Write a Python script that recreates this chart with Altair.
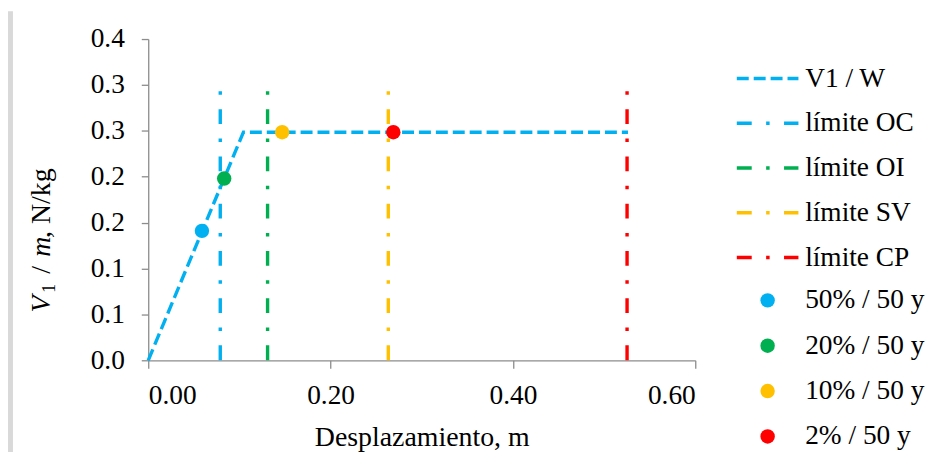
import altair as alt
import pandas as pd

# ---------------- data ----------------
CURVE_NAME = "V1 / W"
CURVE_X = [0.0, 0.1044, 0.5262]
CURVE_Y = [0.0, 0.2485, 0.2485]

LIMIT_NAMES = ["límite OC", "límite OI", "límite SV", "límite CP"]
LIMIT_X = [0.079, 0.1309, 0.2633, 0.5252]
LIMIT_Y = [0.0, 0.294]

EVENT_NAMES = ["50% / 50 y", "20% / 50 y", "10% / 50 y", "2% / 50 y"]
EVENT_X = [0.0589, 0.0833, 0.1469, 0.2688]
EVENT_Y = [0.141, 0.198, 0.2485, 0.2485]

X_TICKS = [0.0, 0.2, 0.4, 0.6]
Y_TICKS = [0.0, 0.05, 0.10, 0.15, 0.20, 0.25, 0.30, 0.35]
Y_TICK_LABELS = ["0.0", "0.1", "0.1", "0.2", "0.2", "0.3", "0.3", "0.4"]

LINE_NAMES = [CURVE_NAME] + LIMIT_NAMES
LINE_COLORS = ["#00B0F0", "#00B0F0", "#00B050", "#FFC000", "#FF0000"]
LINE_DASHES = [[12, 5], [15, 14.5, 3.5, 14.5], [15, 14.5, 3.5, 14.5],
               [15, 14.5, 3.5, 14.5], [15, 14.5, 3.5, 14.5]]
EVENT_COLORS = ["#00B0F0", "#00B050", "#FFC000", "#FF0000"]

FONT = "Liberation Serif"
FS = 27.5
AXIS_GRAY = "#8c8c8c"

# ---------------- tables ----------------
rows = []
for i, (x, y) in enumerate(zip(CURVE_X, CURVE_Y)):
    rows.append({"serie": CURVE_NAME, "x": x, "y": y, "ord": i})
for name, x in zip(LIMIT_NAMES, LIMIT_X):
    for j, y in enumerate(LIMIT_Y):
        rows.append({"serie": name, "x": x, "y": y, "ord": j})
df_lines = pd.DataFrame(rows)
df_events = pd.DataFrame({"evento": EVENT_NAMES, "x": EVENT_X, "y": EVENT_Y})

label_list = "[" + ",".join('"%s"' % s for s in Y_TICK_LABELS) + "]"

x_enc = alt.X(
    "x:Q",
    scale=alt.Scale(domain=[0, 0.6], nice=False, zero=False),
    axis=alt.Axis(values=X_TICKS, format=".2f", title="Desplazamiento, m",
                  grid=False, tickSize=8, labelPadding=13, titleFontSize=28,
                  titleBaseline="alphabetic", titleY=86),
)
y_enc = alt.Y(
    "y:Q",
    scale=alt.Scale(domain=[0, 0.35], nice=False),
    axis=alt.Axis(values=Y_TICKS, labelExpr=label_list + "[round(datum.value*20)]",
                  title=None, grid=False, tickSize=7, labelPadding=17),
)

SYM_SIZE = 210  # circle of ~16 px; line symbol path scaled to 62 px
line_legend = alt.Legend(
    title=None, orient="none", legendX=609, legendY=26, padding=0,
    symbolType="M-4.276,0H4.276", symbolSize=SYM_SIZE, symbolStrokeWidth=3.5,
    labelFont=FONT, labelFontSize=FS, labelColor="black", labelOffset=24,
    rowPadding=16, labelLimit=300,
)

lines = alt.Chart(df_lines).mark_line(strokeWidth=3.4).encode(
    x=x_enc,
    y=y_enc,
    color=alt.Color("serie:N", scale=alt.Scale(domain=LINE_NAMES, range=LINE_COLORS),
                    legend=line_legend),
    strokeDash=alt.StrokeDash("serie:N", scale=alt.Scale(domain=LINE_NAMES, range=LINE_DASHES),
                              legend=line_legend),
    order=alt.Order("ord:Q"),
)

points = alt.Chart(df_events).mark_circle(size=210, opacity=1).encode(
    x=alt.X("x:Q"),
    y=alt.Y("y:Q"),
    color=alt.Color("evento:N", scale=alt.Scale(domain=EVENT_NAMES, range=EVENT_COLORS),
                    legend=alt.Legend(
                        title=None, orient="none", legendX=609, legendY=249, padding=0,
                        symbolType="circle", symbolSize=SYM_SIZE, symbolOpacity=1,
                        labelFont=FONT, labelFontSize=FS, labelColor="black",
                        labelOffset=24, rowPadding=16.6, labelLimit=300)),
)

one = pd.DataFrame({"k": [0]})


def piece(txt, x, y, size=28, style="normal"):
    return alt.Chart(one).mark_text(
        text=txt, font=FONT, fontSize=size, fontStyle=style, angle=270,
        align="left", baseline="alphabetic", color="black",
    ).encode(x=alt.value(x), y=alt.value(y))


title_pieces = [
    piece("V", -99, 275, style="italic"),
    piece("1", -94, 255, size=18),
    piece("/", -99, 236),
    piece("m", -99, 219, style="italic"),
    piece(", N/kg", -99, 200),
]

side_bar = alt.Chart(one).mark_rect(color="#d9d9d9").encode(
    x=alt.value(-141), x2=alt.value(-136), y=alt.value(-28), y2=alt.value(420)
)

chart = alt.layer(side_bar, lines, points, *title_pieces).resolve_scale(
    color="independent", strokeDash="independent"
).properties(
    width=550, height=323,
    autosize=alt.AutoSizeParams(type="none"),
    padding={"left": 141, "top": 30, "right": 233, "bottom": 91},
).configure(font=FONT).configure_view(stroke=None).configure_axis(
    labelFont=FONT, labelFontSize=FS, labelColor="black",
    titleFont=FONT, titleFontSize=28, titleColor="black", titleFontWeight="normal",
    domainColor=AXIS_GRAY, tickColor=AXIS_GRAY, domainWidth=1.3, tickWidth=1.3,
)

chart.save("out.html", embed_options={"renderer": "svg", "actions": False})
